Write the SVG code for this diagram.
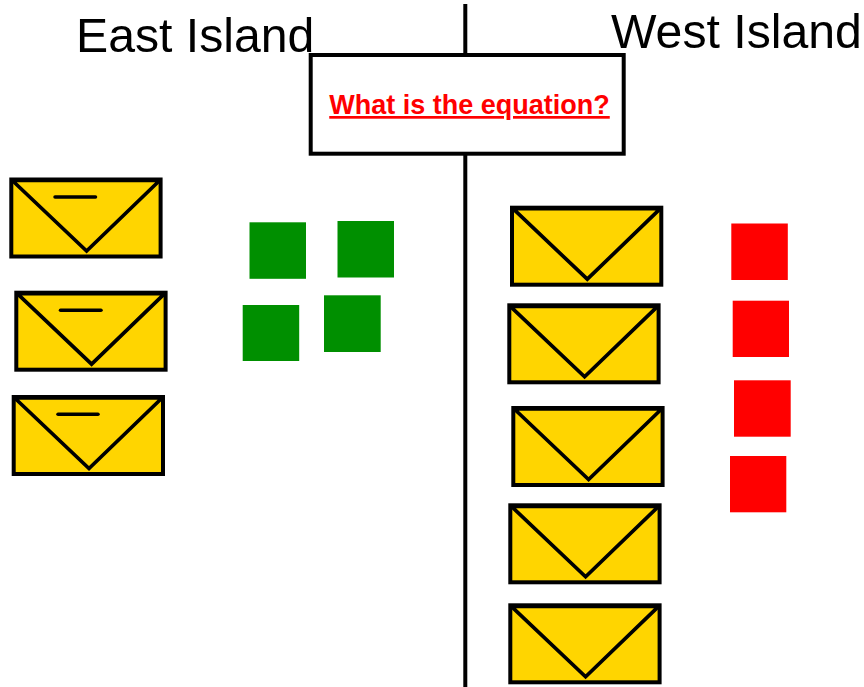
<svg xmlns="http://www.w3.org/2000/svg" width="864" height="687" viewBox="0 0 864 687">
<style>
.t{font-family:"Liberation Sans",Arial,sans-serif;font-size:48.2px;fill:#000}
.e{fill:#ffd500;stroke:#000;stroke-width:4}
.f{fill:none;stroke:#000;stroke-width:3.7;stroke-linecap:butt}
.m{fill:none;stroke:#000;stroke-width:3.5;stroke-linecap:round}
.g{fill:#008f00}
.r{fill:#ff0000}
</style>
<defs>
<g id="env"><rect class="e" x="0" y="0" width="149.300" height="77"/><path class="f" d="M0.500 0.500L75.300 71.500L148.800 0.500M0 1H149.300"/></g>
</defs>
<rect width="864" height="687" fill="#fff"/>
<g id="connectors"><path d="M465.300 4V687" stroke="#000" stroke-width="4" fill="none"/></g>
<g id="east-title"><text class="t" x="76" y="52">East Island</text></g>
<g id="west-title"><text class="t" x="611" y="48">West Island</text></g>
<g id="question"><rect x="310.700" y="55" width="313" height="98.700" fill="#fff" stroke="#000" stroke-width="4"/>
<text x="469.500" y="114" text-anchor="middle" font-family="Liberation Sans,Arial,sans-serif" font-size="27" font-weight="700" fill="#ff0000" text-decoration="underline">What is the equation?</text></g>
<g id="e1"><use href="#env" x="11.300" y="179.500"/><path class="m" d="M55 197H95.500"/></g>
<g id="e2"><use href="#env" x="16.300" y="292.700"/><path class="m" d="M60.500 310.300H101"/></g>
<g id="e3"><use href="#env" x="13.700" y="397"/><path class="m" d="M58 414.300H98"/></g>
<g id="w1"><use href="#env" x="512" y="207.700"/></g>
<g id="w2"><use href="#env" x="509.300" y="305.300"/></g>
<g id="w3"><use href="#env" x="513.300" y="408"/></g>
<g id="w4"><use href="#env" x="510.300" y="505.300"/></g>
<g id="w5"><use href="#env" x="510.300" y="605.300"/></g>
<g id="g1"><rect class="g" x="249.500" y="222.300" width="56.500" height="56.500"/></g>
<g id="g2"><rect class="g" x="337.500" y="221" width="56.500" height="56.500"/></g>
<g id="g3"><rect class="g" x="242.700" y="305" width="56.500" height="56"/></g>
<g id="g4"><rect class="g" x="324" y="295.300" width="56.700" height="56.700"/></g>
<g id="r1"><rect class="r" x="731.300" y="223.500" width="56.500" height="56.500"/></g>
<g id="r2"><rect class="r" x="732.700" y="300.700" width="56.300" height="56.300"/></g>
<g id="r3"><rect class="r" x="734" y="380.300" width="56.700" height="56.400"/></g>
<g id="r4"><rect class="r" x="730" y="456" width="56.300" height="56.300"/></g>
</svg>
